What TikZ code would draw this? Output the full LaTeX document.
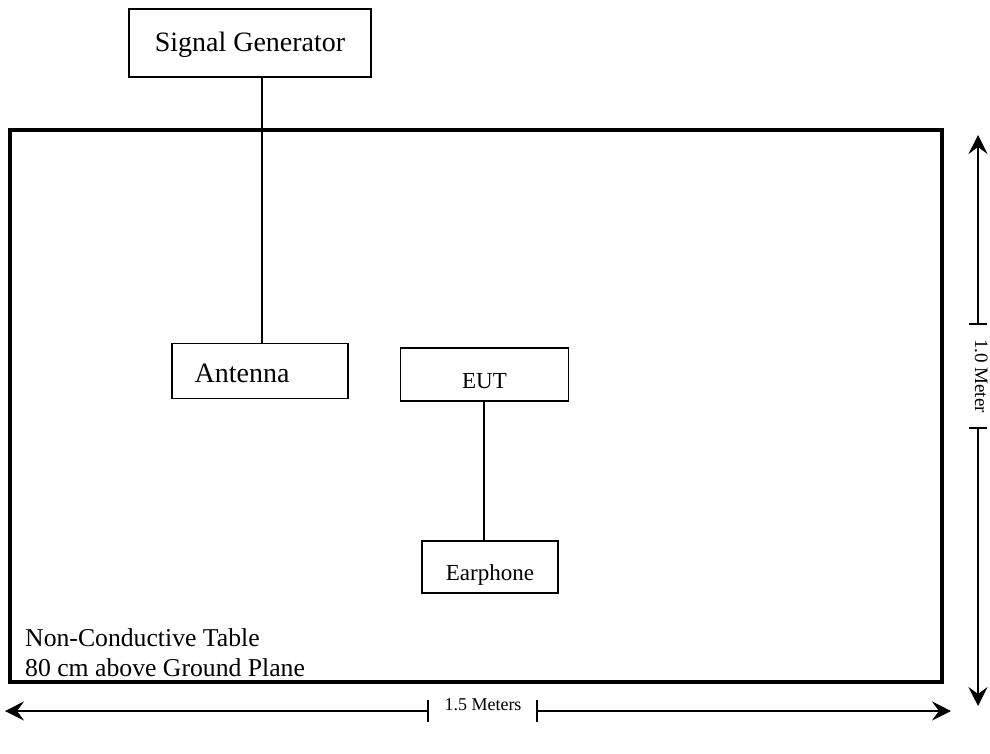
\documentclass[tikz,border=0pt]{standalone}
\usepackage{fontspec}
\setmainfont{Liberation Serif}
\usetikzlibrary{arrows.meta,calc}
\begin{document}
\begin{tikzpicture}[x=1pt,y=-1pt,
  box/.style={draw, line width=1.8pt, inner sep=0pt, rectangle},
  wire/.style={line width=1.5pt},
  dim/.style={line width=1.4pt},
  tip/.style={-{Stealth[length=19pt,width=19pt,inset=7pt]}}]
\useasboundingbox (0,0) rectangle (990,753);
\fill[white] (0,0) rectangle (990,753);
% table
\node[draw, line width=3.2pt, inner sep=0pt, minimum width=932pt, minimum height=552pt] (table) at (476,406) {};
\node[anchor=base west, font=\fontsize{25.7}{30}\selectfont, inner sep=0pt] (tlab1) at (25,646) {Non-Conductive Table};
\node[anchor=base west, font=\fontsize{25.7}{30}\selectfont, inner sep=0pt] (tlab2) at (25,676) {80 cm above Ground Plane};
% boxes
\node[box, minimum width=242pt, minimum height=68pt, font=\fontsize{28}{32}\selectfont] (sg) at (250,43) {\raisebox{-2pt}[\height][\depth]{Signal Generator}};
\node[box, minimum width=176pt, minimum height=55pt, font=\fontsize{28}{32}\selectfont] (ant) at (260,371) {\raisebox{-2pt}[\height][\depth]{Antenna}\hspace*{36pt}};
\node[box, minimum width=168pt, minimum height=53pt, font=\fontsize{23}{26}\selectfont] (eut) at (484.5,374.5) {\raisebox{-7pt}[\height][\depth]{EUT}};
\node[box, minimum width=136pt, minimum height=52pt, font=\fontsize{23}{26}\selectfont] (ear) at (490,567) {\raisebox{-8pt}[\height][\depth]{Earphone}};
\draw[wire] (sg.south -| 262,0) -- (ant.north -| 262,0);
\draw[wire] (eut.south -| 484,0) -- (ear.north -| 484,0);
% vertical dimension
\coordinate (vtop) at (978,135);
\coordinate (vt1) at (978,324);
\coordinate (vt2) at (978,428);
\coordinate (vbot) at (978,706);
\draw[dim] (vt1) ++(-9,0) -- ++(18,0);
\draw[dim] (vt2) ++(-9,0) -- ++(18,0);
\draw[dim,tip] (vt1) -- (vtop);
\draw[dim,tip] (vt2) -- (vbot);
\node[rotate=-90, anchor=base, font=\fontsize{19}{22}\selectfont, inner sep=0pt] (vlab) at ($(vt1)!0.5!(vt2)+(-3,0)$) {1.0 Meter};
% horizontal dimension
\coordinate (hl) at (5,711);
\coordinate (h1) at (428,711);
\coordinate (h2) at (537,711);
\coordinate (hr) at (951,711);
\draw[dim] (h1) ++(0,-11) -- ++(0,22);
\draw[dim] (h2) ++(0,-11) -- ++(0,22);
\draw[dim,tip] (h1) -- (hl);
\draw[dim,tip] (h2) -- (hr);
\node[anchor=base, font=\fontsize{18}{22}\selectfont, inner sep=0pt] (hlab) at (483,710) {1.5 Meters};
\end{tikzpicture}
\end{document}
